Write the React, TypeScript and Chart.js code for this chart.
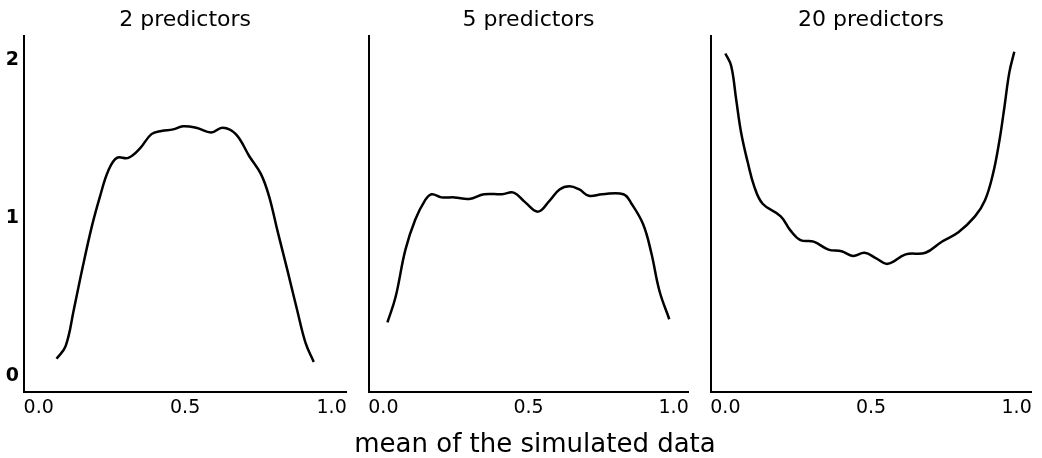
import React, { useEffect, useRef } from "react";
import { Chart, registerables } from "chart.js";

Chart.register(...registerables);

const titles = ["2 predictors", "5 predictors", "20 predictors"];
const xTicks = [0, 0.5, 1.0];
const yTicks = [0, 1, 2];
const xLabel = "mean of the simulated data";

const xs2 = [0.061, 0.092, 0.12, 0.148, 0.182, 0.21, 0.238, 0.267, 0.306, 0.346, 0.385, 0.419, 0.459, 0.493, 0.538, 0.589, 0.628, 0.673, 0.719, 0.758, 0.786, 0.815, 0.849, 0.882, 0.911, 0.939];
const ys2 = [0.11, 0.19, 0.42, 0.67, 0.95, 1.14, 1.3, 1.38, 1.38, 1.44, 1.53, 1.55, 1.56, 1.58, 1.57, 1.54, 1.57, 1.53, 1.39, 1.28, 1.14, 0.92, 0.67, 0.42, 0.21, 0.09];

const xs5 = [0.014, 0.042, 0.076, 0.11, 0.143, 0.166, 0.2, 0.245, 0.296, 0.347, 0.409, 0.449, 0.488, 0.533, 0.573, 0.607, 0.641, 0.675, 0.708, 0.754, 0.827, 0.855, 0.895, 0.923, 0.951, 0.985];
const ys5 = [0.34, 0.5, 0.8, 0.99, 1.11, 1.15, 1.13, 1.13, 1.12, 1.15, 1.15, 1.16, 1.1, 1.04, 1.11, 1.18, 1.2, 1.18, 1.14, 1.15, 1.15, 1.09, 0.96, 0.78, 0.54, 0.36];

const xs20 = [0.0, 0.02, 0.037, 0.054, 0.077, 0.099, 0.128, 0.19, 0.224, 0.258, 0.303, 0.354, 0.399, 0.438, 0.478, 0.518, 0.557, 0.619, 0.687, 0.743, 0.8, 0.857, 0.891, 0.919, 0.941, 0.958, 0.975, 0.992];
const ys20 = [2.04, 1.96, 1.75, 1.54, 1.35, 1.2, 1.09, 1.01, 0.92, 0.86, 0.85, 0.8, 0.79, 0.76, 0.78, 0.745, 0.71, 0.77, 0.78, 0.85, 0.91, 1.01, 1.11, 1.28, 1.49, 1.7, 1.92, 2.05];

const FONT = "'DejaVu Sans', sans-serif";

function makeConfig(title: string, xs: number[], ys: number[], showY: boolean, yWidth: number): any {
  return {
    type: "line",
    data: {
      datasets: [
        {
          data: xs.map((x, i) => ({ x, y: ys[i] })),
          borderColor: "#000",
          borderWidth: 2.5,
          pointRadius: 0,
          tension: 0.4,
          fill: false,
        },
      ],
    },
    options: {
      animation: false,
      responsive: false,
      maintainAspectRatio: false,
      layout: { padding: { left: 0, right: 4, top: 0, bottom: 0 } },
      plugins: {
        legend: { display: false },
        tooltip: { enabled: false },
        title: {
          display: true,
          text: title,
          fullSize: false,
          color: "#000",
          font: { family: FONT, size: 22, weight: "normal", lineHeight: 1.2 },
          padding: { top: 7, bottom: 2.6 },
        },
      },
      scales: {
        x: {
          type: "linear",
          min: -0.05,
          max: 1.05,
          grid: { display: false, drawTicks: false },
          border: { display: true, color: "#000", width: 2 },
          ticks: {
            color: "#000",
            font: { family: FONT, size: 19 },
            padding: 5,
            maxRotation: 0,
            callback: (v: any) => Number(v).toFixed(1),
          },
          afterBuildTicks: (s: any) => {
            s.ticks = xTicks.map((v) => ({ value: v }));
          },
          afterFit: (s: any) => {
            s.height = 66;
          },
        },
        y: {
          type: "linear",
          min: -0.1,
          max: 2.15,
          grid: { display: false, drawTicks: false },
          border: { display: true, color: "#000", width: 2 },
          ticks: {
            display: showY,
            color: "#000",
            font: { family: FONT, size: 19, weight: "bold" },
            padding: 5,
            callback: (v: any) => String(v),
          },
          afterBuildTicks: (s: any) => {
            s.ticks = yTicks.map((v) => ({ value: v }));
          },
          afterFit: (s: any) => {
            s.width = yWidth;
          },
        },
      },
    },
  };
}

function Panel(props: { left: number; width: number; title: string; xs: number[]; ys: number[]; showY: boolean; yWidth: number }) {
  const ref = useRef<HTMLCanvasElement | null>(null);
  useEffect(() => {
    if (!ref.current) return;
    const chart = new Chart(ref.current, makeConfig(props.title, props.xs, props.ys, props.showY, props.yWidth));
    return () => chart.destroy();
  }, []);
  return (
    <canvas
      ref={ref}
      width={props.width}
      height={458}
      style={{ position: "absolute", left: props.left, top: 0, width: props.width, height: 458, display: "block" }}
    />
  );
}

export default function App() {
  return (
    <div style={{ position: "fixed", left: 0, top: 0, width: 1042, height: 458, background: "#fff", overflow: "hidden" }}>
      <Panel left={0} width={352} title={titles[0]} xs={xs2} ys={ys2} showY={true} yWidth={24} />
      <Panel left={363} width={331} title={titles[1]} xs={xs5} ys={ys5} showY={false} yWidth={4} />
      <Panel left={705} width={332} title={titles[2]} xs={xs20} ys={ys20} showY={false} yWidth={4} />
      <div
        style={{
          position: "absolute",
          left: 335,
          width: 400,
          top: 430,
          textAlign: "center",
          fontFamily: FONT,
          fontSize: 26,
          lineHeight: "26px",
          color: "#000",
          whiteSpace: "nowrap",
        }}
      >
        {xLabel}
      </div>
    </div>
  );
}
